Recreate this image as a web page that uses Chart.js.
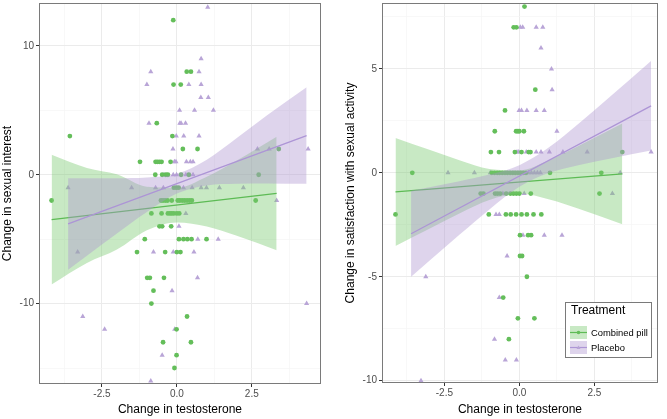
<!DOCTYPE html>
<html>
<head>
<meta charset="utf-8">
<script src="https://cdn.jsdelivr.net/npm/chart.js@4.4.1/dist/chart.umd.min.js"></script>
<style>
  body { margin: 0; background: #fff; }
  canvas { position: absolute; top: 0; }
  #left { left: 0; }
  #right { left: 333px; }
</style>
</head>
<body>
<canvas id="left" width="333" height="419"></canvas>
<canvas id="right" width="334" height="419"></canvas>
<script>
// ---- data: left panel, change in sexual interest ----
const interestPill = [
  [-0.12, 12], [0.33, 8], [0.47, 8], [-0.11, 7], [0.13, 7], [-0.67, 4],
  [-3.57, 3], [-0.15, 3], [0.2, 2], [0.69, 2], [3.4, 2],
  [-1.23, 1], [-0.71, 1], [-0.65, 1], [-0.58, 1], [-0.51, 1], [-0.21, 1],
  [-0.72, 0], [-0.49, 0], [-0.37, 0], [-0.3, 0], [0.14, 0], [0.4, 0], [2.73, 0],
  [-0.1, -1], [-0.02, -1], [0.06, -1],
  [-4.18, -2], [-0.53, -2], [-0.46, -2], [-0.38, -2], [-0.31, -2], [-0.17, -2], [0.03, -2],
  [0.1, -2], [0.18, -2], [0.26, -2], [0.34, -2], [0.42, -2], [0.5, -2], [2.63, -2],
  [-0.85, -3], [-0.51, -3], [-0.3, -3], [-0.23, -3], [-0.17, -3], [-0.1, -3], [0.0, -3], [0.08, -3],
  [-0.58, -4], [-0.49, -4], [-0.19, -4],
  [-1.07, -5], [0.07, -5], [0.22, -5], [0.35, -5], [0.49, -5], [0.99, -5],
  [-1.33, -6], [-0.39, -6], [0.0, -6], [0.12, -6],
  [-0.99, -8], [-0.9, -8], [-0.43, -8], [-0.78, -9], [-0.85, -10], [0.34, -11],
  [-0.01, -12], [-0.46, -13], [0.47, -13], [-0.01, -14], [-0.08, -15]
]
const interestPlacebo = [
  [1.03, 13], [0.81, 9], [-0.87, 8], [0.74, 8], [-1.0, 7], [0.4, 7], [0.81, 7],
  [0.8, 6], [1.05, 6], [0.09, 5], [0.59, 5], [1.22, 5],
  [-0.93, 4], [0.1, 4], [0.14, 4], [0.29, 4], [-0.02, 3], [0.23, 3], [0.74, 3],
  [-0.13, 2], [2.69, 2], [3.08, 2], [4.38, 2],
  [-0.08, 1], [-0.03, 1], [0.32, 1], [0.45, 1], [0.54, 1],
  [-0.43, 0], [-0.12, 0], [-0.01, 0], [0.3, 0], [0.54, 0],
  [-3.63, -1], [-1.51, -1], [-0.71, -1], [-0.45, -1], [0.22, -1], [0.51, -1],
  [0.81, -1], [0.99, -1], [1.42, -1], [2.22, -1],
  [3.33, -2], [0.3, -3], [0.07, -4], [0.7, -5], [1.38, -5],
  [-3.31, -6], [-0.78, -6], [-0.12, -6], [0.57, -6], [0.69, -8], [-0.16, -9],
  [4.33, -10], [-3.14, -11], [-2.41, -12], [-0.07, -12], [-0.49, -14], [-0.87, -16]
]
const interestPillBandX = [-4.18, -3, -2, -1, 0, 1, 2, 3.33]
const interestPillUpper = [1.55, 0.53, 0.03, -0.93, -1.0, -0.15, 1.11, 2.95]
const interestPillLower = [-8.51, -6.85, -5.81, -4.31, -3.7, -4.01, -4.73, -5.85]
const interestPillLine = [[-4.18, -3.48], [3.33, -1.45]]
const interestPlaceboBandX = [-3.63, -3, -2, -1, 0, 1, 2, 3, 4.33]
const interestPlaceboUpper = [-0.27, -0.28, -0.27, -0.21, 0.08, 1.17, 2.85, 4.6, 6.8]
const interestPlaceboLower = [-7.37, -6.28, -4.55, -2.89, -1.46, -0.83, -0.7, -0.67, -0.7]
const interestPlaceboLine = [[-3.63, -3.82], [4.33, 3.04]]
const interestXTicks = [-3.75, -2.5, -1.25, 0, 1.25, 2.5, 3.75]
const interestXLabels = ['', '-2.5', '', '0.0', '', '2.5', '']
const interestYTicks = [-15, -10, -5, 0, 5, 10]
const interestYLabels = ['', '-10', '', '0', '', '10']

// ---- data: right panel, change in satisfaction with sexual activity ----
const satPill = [
  [0.17, 8], [-0.19, 7], [-0.1, 7], [0.53, 4], [-0.48, 3],
  [-0.82, 2], [-0.11, 2], [-0.05, 2], [0, 2], [0.15, 2],
  [-0.95, 1], [-0.68, 1], [-0.15, 1], [0.07, 1], [0.31, 1], [0.37, 1], [3.43, 1],
  [-3.57, 0], [-0.92, 0], [-0.83, 0], [-0.74, 0], [-0.66, 0], [-0.57, 0], [-0.48, 0],
  [-0.4, 0], [-0.31, 0], [-0.22, 0], [-0.14, 0], [-0.05, 0], [0.04, 0], [0.13, 0],
  [0.22, 0], [1.02, 0], [2.73, 0],
  [-1.29, -1], [-1.2, -1], [-0.81, -1], [-0.73, -1], [-0.64, -1], [-0.44, -1],
  [-0.3, -1], [-0.2, -1], [-0.1, -1], [0, -1], [0.38, -1], [2.67, -1],
  [-4.13, -2], [-1.02, -2], [-0.45, -2], [-0.29, -2], [-0.11, -2], [0.07, -2],
  [0.25, -2], [0.47, -2], [0.73, -2],
  [0.02, -3], [0.29, -3], [0.39, -3], [0.02, -4], [0.09, -4], [0.25, -5],
  [-0.54, -6], [-0.05, -7], [0.5, -7], [-0.35, -8]
]
const satPlacebo = [
  [0.03, 7], [0.11, 7], [0.56, 7], [0.78, 7], [0.72, 6], [1.07, 5], [1.09, 4],
  [-0.01, 3], [0.07, 3], [0.25, 3], [0.56, 3], [0.83, 3], [1.25, 2],
  [-0.08, 1], [-0.02, 1], [0.23, 1], [0.56, 1], [0.72, 1], [1.0, 1], [1.45, 1],
  [2.26, 1], [4.39, 1],
  [-2.38, 0], [-1.5, 0], [-0.97, 0], [0.3, 0], [0.4, 0], [0.5, 0], [0.6, 0], [0.7, 0], [3.36, 0],
  [-0.55, -1], [0.16, -1], [3.1, -1], [-0.78, -2], [-0.67, -2],
  [0.12, -3], [0.83, -3], [1.42, -3], [-0.41, -4], [-3.12, -5], [-0.67, -6],
  [-0.83, -8], [-0.47, -9], [-0.1, -9], [-3.28, -10]
]
const satPillBandX = [-4.13, -3, -2, -1, 0, 1, 2, 3.43]
const satPillUpper = [1.68, 1.11, 0.61, 0.19, 0.12, 0.62, 1.31, 2.37]
const satPillLower = [-3.52, -2.69, -1.96, -1.31, -1.01, -1.28, -1.74, -2.47]
const satPillLine = [[-4.13, -0.92], [3.43, -0.05]]
const satPlaceboBandX = [-3.61, -3, -2, -1, 0, 1, 2, 3, 4.39]
const satPlaceboUpper = [-0.86, -0.69, -0.4, -0.08, 0.37, 1.24, 2.4, 3.64, 5.39]
const satPlaceboLower = [-5.0, -4.23, -2.98, -1.76, -0.67, 0.0, 0.38, 0.68, 1.07]
const satPlaceboLine = [[-3.61, -2.93], [4.39, 3.22]]
const satXTicks = [-3.75, -2.5, -1.25, 0, 1.25, 2.5, 3.75]
const satXLabels = ['', '-2.5', '', '0.0', '', '2.5', '']
const satYTicks = [-10, -7.5, -5, -2.5, 0, 2.5, 5, 7.5]
const satYLabels = ['-10', '', '-5', '', '0', '', '5', '']

const groups = ['Combined pill', 'Placebo']

const GREEN = '#64be5a'
const GREEN_LINE = '#5dbb55'
const GREEN_FILL = 'rgba(117, 200, 107, 0.4)'
const PURPLE = '#b9a5d7'
const PURPLE_LINE = '#ad95d6'
const PURPLE_FILL = 'rgba(172, 147, 207, 0.4)'
const FONT = '"Liberation Sans", Arial, sans-serif'

const toXY = pts => pts.map(p => ({x: p[0], y: p[1]}))
const zip = (xs, ys) => xs.map((x, i) => ({x: x, y: ys[i]}))

const panelBorder = {
  id: 'panelBorder',
  afterDatasetsDraw(chart) {
    const {ctx, chartArea} = chart
    ctx.save()
    ctx.strokeStyle = '#7a7a7a'
    ctx.lineWidth = 1
    ctx.strokeRect(chartArea.left + 0.5, chartArea.top + 0.5,
      chartArea.right - chartArea.left - 1, chartArea.bottom - chartArea.top - 1)
    ctx.restore()
  }
}

const treatmentLegend = {
  id: 'treatmentLegend',
  afterDraw(chart) {
    const ctx = chart.ctx
    const x0 = 232, y0 = 302, w = 87, h = 56
    ctx.save()
    ctx.fillStyle = '#ffffff'
    ctx.fillRect(x0, y0, w, h)
    ctx.strokeStyle = '#7a7a7a'
    ctx.lineWidth = 1
    ctx.strokeRect(x0 + 0.5, y0 + 0.5, w - 1, h - 1)
    ctx.fillStyle = '#000'
    ctx.font = '12px ' + FONT
    ctx.textBaseline = 'middle'
    ctx.fillText('Treatment', x0 + 6, y0 + 9)
    const keys = [
      {fill: GREEN_FILL, line: GREEN_LINE, pt: GREEN, tri: false},
      {fill: PURPLE_FILL, line: PURPLE_LINE, pt: PURPLE, tri: true}
    ]
    keys.forEach((k, i) => {
      const ky = y0 + 24 + i * 15
      ctx.fillStyle = k.fill
      ctx.fillRect(x0 + 5, ky, 17, 13)
      ctx.strokeStyle = k.line
      ctx.lineWidth = 1.2
      ctx.beginPath()
      ctx.moveTo(x0 + 5, ky + 6.5)
      ctx.lineTo(x0 + 22, ky + 6.5)
      ctx.stroke()
      ctx.fillStyle = k.pt
      ctx.beginPath()
      if (k.tri) {
        ctx.moveTo(x0 + 13.5, ky + 4.5)
        ctx.lineTo(x0 + 15.5, ky + 8)
        ctx.lineTo(x0 + 11.5, ky + 8)
        ctx.closePath()
      } else {
        ctx.arc(x0 + 13.5, ky + 6.5, 1.8, 0, Math.PI * 2)
      }
      ctx.fill()
      ctx.fillStyle = '#000'
      ctx.font = '9.4px ' + FONT
      ctx.fillText(groups[i], x0 + 26, ky + 7)
    })
    ctx.restore()
  }
}

function axis(cfg) {
  return {
    type: 'linear',
    min: cfg.min,
    max: cfg.max,
    afterBuildTicks: s => { s.ticks = cfg.ticks.map(v => ({value: v})) },
    afterFit: s => {
      if (cfg.width) s.width = cfg.width
      if (cfg.height) s.height = cfg.height
      s.paddingTop = 0
      s.paddingBottom = 0
      s.paddingLeft = 0
      s.paddingRight = 0
    },
    ticks: {
      autoSkip: false,
      maxRotation: 0,
      padding: cfg.tickPad,
      color: '#4d4d4d',
      font: {family: FONT, size: 10},
      callback: (v, i) => cfg.labels[i]
    },
    grid: {
      color: c => cfg.labels[c.index] ? '#ebebeb' : '#f5f5f5',
      lineWidth: c => cfg.labels[c.index] ? 1 : 0.7,
      tickColor: c => cfg.labels[c.index] ? '#333333' : 'rgba(0,0,0,0)',
      tickLength: 3,
      drawTicks: true
    },
    border: {display: false},
    title: {
      display: true,
      text: cfg.title,
      color: '#000',
      font: {family: FONT, size: 12},
      padding: cfg.titlePad
    }
  }
}

function datasets(d) {
  const pointSet = (pts, color, style, r) => ({
    type: 'scatter', data: toXY(pts), order: 10,
    pointStyle: style, pointRadius: r, pointHoverRadius: r,
    backgroundColor: color, borderColor: color, borderWidth: 0, showLine: false
  })
  const band = (xs, ys, fill, ord, fillIt) => ({
    data: zip(xs, ys), order: ord, fill: fillIt ? '+1' : false,
    backgroundColor: fill, borderWidth: 0, pointRadius: 0,
    cubicInterpolationMode: 'monotone'
  })
  const line = (pts, color, ord) => ({
    data: toXY(pts), order: ord, fill: false, borderColor: color,
    borderWidth: 1.3, pointRadius: 0
  })
  return [
    pointSet(d.pill, GREEN, 'circle', 2.4),
    pointSet(d.placebo, PURPLE, 'triangle', 3),
    band(d.pillBandX, d.pillUpper, GREEN_FILL, 6, true),
    band(d.pillBandX, d.pillLower, GREEN_FILL, 6, false),
    line(d.pillLine, GREEN_LINE, 5),
    band(d.placeboBandX, d.placeboUpper, PURPLE_FILL, 4, true),
    band(d.placeboBandX, d.placeboLower, PURPLE_FILL, 4, false),
    line(d.placeboLine, PURPLE_LINE, 3)
  ]
}

function buildPanel(canvasId, d, x, y, padRight, extraPlugins) {
  return new Chart(document.getElementById(canvasId), {
    type: 'line',
    data: {datasets: datasets(d)},
    options: {
      responsive: false,
      animation: false,
      events: [],
      layout: {padding: {top: 2, right: padRight, left: 0, bottom: 0}},
      plugins: {legend: {display: false}, tooltip: {enabled: false}},
      scales: {x: axis(x), y: axis(y)}
    },
    plugins: [panelBorder].concat(extraPlugins)
  })
}

buildPanel('left', {
  pill: interestPill, placebo: interestPlacebo,
  pillBandX: interestPillBandX, pillUpper: interestPillUpper, pillLower: interestPillLower,
  pillLine: interestPillLine,
  placeboBandX: interestPlaceboBandX, placeboUpper: interestPlaceboUpper,
  placeboLower: interestPlaceboLower, placeboLine: interestPlaceboLine
}, {
  min: -4.6, max: 4.81, ticks: interestXTicks, labels: interestXLabels,
  height: 35, tickPad: 1, title: 'Change in testosterone', titlePad: {top: 0, bottom: 2}
}, {
  min: -16.24, max: 13.33, ticks: interestYTicks, labels: interestYLabels,
  width: 39, tickPad: 2, title: 'Change in sexual interest', titlePad: {top: 0, bottom: 0}
}, 12, [])

buildPanel('right', {
  pill: satPill, placebo: satPlacebo,
  pillBandX: satPillBandX, pillUpper: satPillUpper, pillLower: satPillLower,
  pillLine: satPillLine,
  placeboBandX: satPlaceboBandX, placeboUpper: satPlaceboUpper,
  placeboLower: satPlaceboLower, placeboLine: satPlaceboLine
}, {
  min: -4.58, max: 4.62, ticks: satXTicks, labels: satXLabels,
  height: 36, tickPad: 1, title: 'Change in testosterone', titlePad: {top: 0, bottom: 2}
}, {
  min: -10.11, max: 8.17, ticks: satYTicks, labels: satYLabels,
  width: 49, tickPad: 2, title: 'Change in satisfaction with sexual activity', titlePad: {top: 10, bottom: 0}
}, 9, [treatmentLegend])
</script>
</body>
</html>
